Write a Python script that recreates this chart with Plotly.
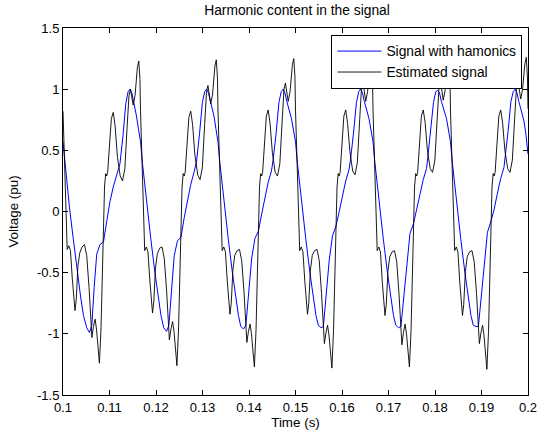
import plotly.graph_objects as go

# ---- Signal with harmonics (blue), one list pair per 60 Hz cycle ----
sig_t_c1 = [0.10000, 0.10040, 0.10080, 0.10140, 0.10220, 0.10310, 0.10380, 0.10440, 0.10510, 0.10570,
            0.10620, 0.10670, 0.10725, 0.10795, 0.10870, 0.10940, 0.11010, 0.11080, 0.11150, 0.11225,
            0.11290, 0.11350, 0.11400, 0.11440, 0.11480, 0.11520, 0.11580, 0.11620]
sig_v_c1 = [0.57, 0.40, 0.25, 0.03, -0.22, -0.50, -0.70, -0.85, -0.95, -0.99,
            -0.93, -0.62, -0.35, -0.27, -0.25, -0.08, 0.08, 0.20, 0.30, 0.39,
            0.62, 0.88, 0.98, 1.00, 0.97, 0.90, 0.78, 0.68]

sig_t_c2 = [0.11667, 0.11707, 0.11747, 0.11807, 0.11887, 0.11977, 0.12047, 0.12107, 0.12167, 0.12227,
            0.12277, 0.12337, 0.12392, 0.12462, 0.12537, 0.12607, 0.12677, 0.12747, 0.12817, 0.12872,
            0.12937, 0.12997, 0.13047, 0.13087, 0.13127, 0.13167, 0.13247, 0.13287]
sig_v_c2 = [0.57, 0.40, 0.25, 0.03, -0.22, -0.50, -0.70, -0.85, -0.95, -0.98,
            -0.93, -0.62, -0.36, -0.24, -0.21, -0.05, 0.10, 0.22, 0.32, 0.41,
            0.64, 0.89, 0.98, 1.00, 0.97, 0.90, 0.78, 0.68]

sig_t_c3 = [0.13333, 0.13373, 0.13413, 0.13473, 0.13553, 0.13643, 0.13713, 0.13773, 0.13823, 0.13883,
            0.13933, 0.14003, 0.14058, 0.14128, 0.14203, 0.14273, 0.14343, 0.14413, 0.14483, 0.14518,
            0.14583, 0.14643, 0.14693, 0.14733, 0.14773, 0.14813, 0.14913, 0.14953]
sig_v_c3 = [0.57, 0.40, 0.25, 0.03, -0.22, -0.50, -0.70, -0.85, -0.94, -0.96,
            -0.93, -0.64, -0.38, -0.22, -0.16, -0.02, 0.12, 0.24, 0.33, 0.42,
            0.64, 0.89, 0.98, 1.00, 0.97, 0.90, 0.76, 0.67]

sig_t_c4 = [0.15000, 0.15040, 0.15080, 0.15140, 0.15220, 0.15310, 0.15380, 0.15440, 0.15490, 0.15550,
            0.15600, 0.15670, 0.15725, 0.15795, 0.15870, 0.15940, 0.16010, 0.16080, 0.16150, 0.16185,
            0.16250, 0.16310, 0.16360, 0.16400, 0.16440, 0.16480, 0.16580, 0.16620]
sig_v_c4 = [0.57, 0.40, 0.25, 0.03, -0.22, -0.50, -0.70, -0.85, -0.93, -0.95,
            -0.94, -0.66, -0.40, -0.20, -0.12, 0.00, 0.13, 0.25, 0.34, 0.43,
            0.65, 0.89, 0.98, 1.00, 0.97, 0.90, 0.76, 0.67]

sig_t_c5 = [0.16667, 0.16707, 0.16747, 0.16807, 0.16887, 0.16977, 0.17047, 0.17107, 0.17157, 0.17217,
            0.17267, 0.17337, 0.17392, 0.17462, 0.17537, 0.17607, 0.17677, 0.17747, 0.17817, 0.17842,
            0.17907, 0.17967, 0.18017, 0.18057, 0.18097, 0.18137, 0.18247, 0.18287]
sig_v_c5 = [0.57, 0.40, 0.25, 0.03, -0.22, -0.50, -0.70, -0.85, -0.93, -0.95,
            -0.94, -0.66, -0.40, -0.18, -0.10, 0.01, 0.14, 0.26, 0.35, 0.43,
            0.65, 0.89, 0.98, 0.99, 0.97, 0.90, 0.76, 0.67]

sig_t_c6 = [0.18333, 0.18373, 0.18413, 0.18473, 0.18553, 0.18643, 0.18713, 0.18773, 0.18823, 0.18883,
            0.18933, 0.19003, 0.19058, 0.19128, 0.19203, 0.19273, 0.19343, 0.19413, 0.19483, 0.19508,
            0.19573, 0.19633, 0.19683, 0.19723, 0.19763, 0.19803, 0.19913, 0.19953, 0.20000]
sig_v_c6 = [0.57, 0.40, 0.25, 0.03, -0.22, -0.50, -0.70, -0.85, -0.93, -0.94,
            -0.94, -0.66, -0.40, -0.17, -0.08, 0.02, 0.15, 0.27, 0.36, 0.44,
            0.66, 0.90, 0.98, 1.00, 0.97, 0.90, 0.74, 0.64, 0.47]

# ---- Estimated signal (black), one list pair per cycle ----
est_t_c1 = [0.10000, 0.10030, 0.10065, 0.10090, 0.10125, 0.10160, 0.10200, 0.10235, 0.10258, 0.10285,
            0.10320, 0.10360, 0.10410, 0.10462, 0.10510, 0.10560, 0.10600, 0.10621, 0.10655, 0.10690,
            0.10720, 0.10755, 0.10783, 0.10818, 0.10858, 0.10893, 0.10918, 0.10940, 0.10960, 0.11000,
            0.11040, 0.11080, 0.11120, 0.11170, 0.11230, 0.11280, 0.11330, 0.11380, 0.11420, 0.11450,
            0.11480, 0.11510, 0.11550, 0.11600, 0.11630, 0.11655]
est_v_c1 = [0.82, 0.40, -0.10, -0.31, -0.28, -0.32, -0.55, -0.76, -0.81, -0.72,
            -0.45, -0.34, -0.29, -0.27, -0.36, -0.62, -0.90, -1.03, -0.94, -0.88,
            -0.96, -1.14, -1.24, -0.95, -0.30, 0.20, 0.31, 0.29, 0.32, 0.55,
            0.76, 0.81, 0.70, 0.45, 0.29, 0.25, 0.35, 0.70, 0.95, 1.00,
            0.94, 0.87, 0.95, 1.18, 1.23, 1.08]

est_t_c2 = [0.11667, 0.11697, 0.11732, 0.11757, 0.11792, 0.11827, 0.11867, 0.11902, 0.11925, 0.11952,
            0.11987, 0.12027, 0.12077, 0.12129, 0.12177, 0.12227, 0.12267, 0.12288, 0.12322, 0.12357,
            0.12387, 0.12422, 0.12450, 0.12485, 0.12525, 0.12560, 0.12585, 0.12607, 0.12627, 0.12667,
            0.12707, 0.12747, 0.12787, 0.12837, 0.12897, 0.12947, 0.12997, 0.13047, 0.13087, 0.13117,
            0.13147, 0.13177, 0.13217, 0.13267, 0.13297, 0.13322]
est_v_c2 = [0.82, 0.40, -0.10, -0.32, -0.29, -0.33, -0.56, -0.78, -0.83, -0.74,
            -0.47, -0.35, -0.30, -0.29, -0.38, -0.64, -0.92, -1.05, -0.96, -0.90,
            -0.98, -1.16, -1.26, -0.96, -0.30, 0.20, 0.31, 0.29, 0.32, 0.55,
            0.77, 0.82, 0.71, 0.46, 0.30, 0.26, 0.36, 0.72, 0.98, 1.03,
            0.96, 0.88, 0.96, 1.19, 1.24, 1.09]

est_t_c3 = [0.13333, 0.13363, 0.13398, 0.13423, 0.13458, 0.13493, 0.13533, 0.13568, 0.13591, 0.13618,
            0.13653, 0.13693, 0.13743, 0.13795, 0.13843, 0.13893, 0.13933, 0.13954, 0.13988, 0.14023,
            0.14053, 0.14088, 0.14116, 0.14151, 0.14191, 0.14226, 0.14251, 0.14273, 0.14293, 0.14333,
            0.14373, 0.14413, 0.14453, 0.14503, 0.14563, 0.14613, 0.14663, 0.14713, 0.14753, 0.14783,
            0.14813, 0.14843, 0.14883, 0.14933, 0.14963, 0.14988]
est_v_c3 = [0.83, 0.41, -0.10, -0.32, -0.29, -0.33, -0.57, -0.79, -0.84, -0.75,
            -0.48, -0.36, -0.32, -0.31, -0.40, -0.66, -0.94, -1.07, -0.98, -0.92,
            -1.00, -1.17, -1.27, -0.97, -0.30, 0.20, 0.31, 0.29, 0.32, 0.56,
            0.78, 0.83, 0.72, 0.48, 0.32, 0.29, 0.39, 0.74, 1.00, 1.05,
            0.98, 0.90, 0.98, 1.20, 1.25, 1.10]

est_t_c4 = [0.15000, 0.15030, 0.15065, 0.15090, 0.15125, 0.15160, 0.15200, 0.15235, 0.15258, 0.15285,
            0.15320, 0.15360, 0.15410, 0.15462, 0.15510, 0.15560, 0.15600, 0.15621, 0.15655, 0.15690,
            0.15720, 0.15755, 0.15783, 0.15818, 0.15858, 0.15893, 0.15918, 0.15940, 0.15960, 0.16000,
            0.16040, 0.16080, 0.16120, 0.16170, 0.16230, 0.16280, 0.16330, 0.16380, 0.16420, 0.16450,
            0.16480, 0.16510, 0.16550, 0.16600, 0.16630, 0.16655]
est_v_c4 = [0.83, 0.41, -0.10, -0.32, -0.29, -0.33, -0.57, -0.79, -0.84, -0.75,
            -0.48, -0.36, -0.32, -0.31, -0.40, -0.67, -0.95, -1.08, -0.99, -0.93,
            -1.01, -1.18, -1.28, -0.97, -0.30, 0.20, 0.31, 0.29, 0.32, 0.56,
            0.78, 0.83, 0.72, 0.49, 0.33, 0.30, 0.40, 0.75, 1.01, 1.06,
            0.99, 0.90, 0.98, 1.20, 1.25, 1.10]

est_t_c5 = [0.16667, 0.16697, 0.16732, 0.16757, 0.16792, 0.16827, 0.16867, 0.16902, 0.16925, 0.16952,
            0.16987, 0.17027, 0.17077, 0.17129, 0.17177, 0.17227, 0.17267, 0.17288, 0.17322, 0.17357,
            0.17387, 0.17422, 0.17450, 0.17485, 0.17525, 0.17560, 0.17585, 0.17607, 0.17627, 0.17667,
            0.17707, 0.17747, 0.17787, 0.17837, 0.17897, 0.17947, 0.17997, 0.18047, 0.18087, 0.18117,
            0.18147, 0.18177, 0.18217, 0.18267, 0.18297, 0.18322]
est_v_c5 = [0.83, 0.41, -0.10, -0.32, -0.29, -0.33, -0.58, -0.80, -0.85, -0.76,
            -0.49, -0.37, -0.33, -0.32, -0.41, -0.68, -0.96, -1.09, -0.99, -0.92,
            -1.00, -1.17, -1.27, -0.97, -0.30, 0.20, 0.31, 0.29, 0.32, 0.56,
            0.78, 0.83, 0.73, 0.50, 0.35, 0.32, 0.42, 0.76, 1.02, 1.07,
            1.00, 0.91, 0.99, 1.20, 1.25, 1.10]

est_t_c6 = [0.18333, 0.18363, 0.18398, 0.18423, 0.18458, 0.18493, 0.18533, 0.18568, 0.18591, 0.18618,
            0.18653, 0.18693, 0.18743, 0.18795, 0.18843, 0.18893, 0.18933, 0.18954, 0.18988, 0.19023,
            0.19053, 0.19088, 0.19116, 0.19151, 0.19191, 0.19226, 0.19251, 0.19273, 0.19293, 0.19333,
            0.19373, 0.19413, 0.19453, 0.19503, 0.19563, 0.19613, 0.19663, 0.19713, 0.19753, 0.19783,
            0.19813, 0.19843, 0.19883, 0.19933, 0.19963, 0.19988, 0.20000]
est_v_c6 = [0.83, 0.41, -0.10, -0.32, -0.29, -0.33, -0.58, -0.80, -0.85, -0.76,
            -0.49, -0.37, -0.33, -0.32, -0.41, -0.67, -0.95, -1.08, -0.99, -0.93,
            -1.01, -1.19, -1.29, -0.98, -0.30, 0.20, 0.31, 0.29, 0.32, 0.56,
            0.78, 0.83, 0.73, 0.50, 0.35, 0.32, 0.42, 0.76, 1.02, 1.07,
            1.00, 0.92, 1.00, 1.21, 1.26, 1.10, 0.84]

x_ticks = [0.1, 0.11, 0.12, 0.13, 0.14, 0.15, 0.16, 0.17, 0.18, 0.19, 0.2]
x_tick_labels = ["0.1", "0.11", "0.12", "0.13", "0.14", "0.15", "0.16", "0.17", "0.18", "0.19", "0.2"]
y_ticks = [-1.5, -1, -0.5, 0, 0.5, 1, 1.5]
y_tick_labels = ["-1.5", "-1", "-0.5", "0", "0.5", "1", "1.5"]

sig_t = sig_t_c1 + sig_t_c2 + sig_t_c3 + sig_t_c4 + sig_t_c5 + sig_t_c6
sig_v = sig_v_c1 + sig_v_c2 + sig_v_c3 + sig_v_c4 + sig_v_c5 + sig_v_c6
est_t = est_t_c1 + est_t_c2 + est_t_c3 + est_t_c4 + est_t_c5 + est_t_c6
est_v = est_v_c1 + est_v_c2 + est_v_c3 + est_v_c4 + est_v_c5 + est_v_c6

FONT = "Liberation Sans, Arial, Helvetica, sans-serif"

fig = go.Figure()
fig.add_trace(go.Scatter(x=sig_t, y=sig_v, mode="lines", name="Signal with hamonics",
                         line=dict(color="#0000ff", width=1)))
fig.add_trace(go.Scatter(x=est_t, y=est_v, mode="lines", name="Estimated signal",
                         line=dict(color="#000000", width=0.9)))

axis_common = dict(
    showgrid=False, zeroline=False, showline=True, linecolor="black", linewidth=1,
    mirror="ticks", ticks="inside", ticklen=5, tickcolor="black", tickwidth=1,
    tickfont=dict(family=FONT, size=13, color="black"),
)

fig.update_layout(
    width=549, height=439,
    margin=dict(l=63, r=19, t=28, b=43),
    paper_bgcolor="white", plot_bgcolor="white",
    title=dict(text="Harmonic content in the signal", x=0.541, xanchor="center",
               y=0.976, yanchor="middle", yref="container",
               font=dict(family=FONT, size=13.8, color="black")),
    xaxis=dict(range=[0.1, 0.2], tickvals=x_ticks, ticktext=x_tick_labels,
               title=dict(text="Time (s)", standoff=3, font=dict(family=FONT, size=13.4, color="black")),
               **axis_common),
    yaxis=dict(range=[-1.5, 1.5], tickvals=y_ticks, ticktext=y_tick_labels,
               title=dict(text="Voltage (pu)", standoff=15, font=dict(family=FONT, size=13.4, color="black")),
               **axis_common),
    legend=dict(x=0.988, y=0.982, xanchor="right", yanchor="top",
                bgcolor="white", bordercolor="black", borderwidth=1,
                itemwidth=44,
                font=dict(family=FONT, size=13.8, color="black"),
                tracegroupgap=0),
    showlegend=True,
)

fig.write_html("out.html")
